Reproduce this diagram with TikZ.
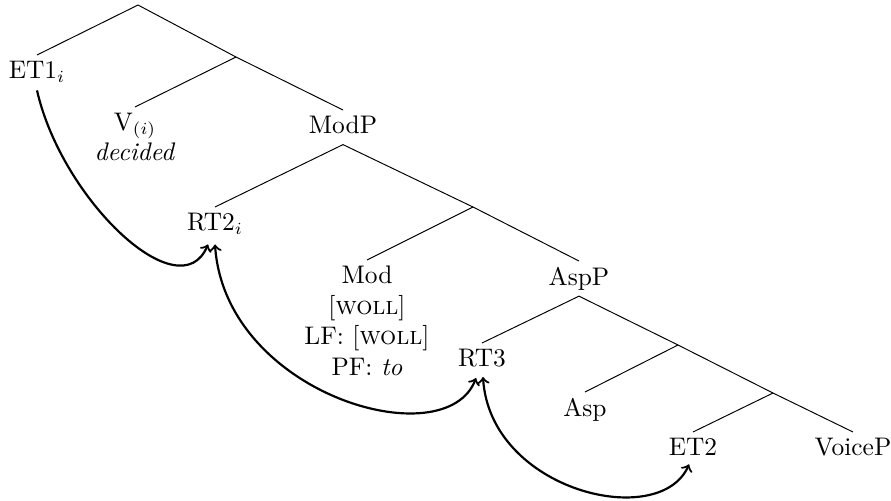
\documentclass[tikz,border=0pt]{standalone}
\usetikzlibrary{calc}
\begin{document}
\begin{tikzpicture}[x=0.413pt, y=-0.413pt,
  lab/.style={inner xsep=1pt, inner ysep=2.3pt, anchor=north, align=center,
    font=\fontsize{10.5}{12.6}\selectfont},
  parent/.style={lab, text depth=2pt},
  branch/.style={line width=0.4pt},
  mv/.style={line width=0.9pt}]
\useasboundingbox (0,0) rectangle (891,500);

% branching points without labels
\coordinate (top) at (138,5);
\coordinate (b1) at (236,57);
\coordinate (b2) at (473,207);
\coordinate (b3) at (678,345);
\coordinate (b4) at (773,393);

% labelled nodes
\node[lab] (et1) at (37,55) {ET1$_i$};
\node[lab] (v) at (135,107) {V$_{(i)}$\\\textit{decided}};
\node[parent] (modp) at (343,110) {ModP};
\node[lab] (rt2) at (215,207) {RT2$_i$};
\node[lab] (mod) at (367,260) {Mod\\{[}\textsc{woll}{]}\\LF: {[}\textsc{woll}{]}\\PF: \textit{to}};
\node[parent] (aspp) at (579,261) {AspP};
\node[lab] (rt3) at (482,343) {RT3};
\node[lab] (asp) at (585,392) {Asp};
\node[lab] (et2) at (693,432) {ET2};
\node[lab] (voicep) at (853,432) {VoiceP};

% tree branches
\draw[branch] (top) -- (et1.north);
\draw[branch] (top) -- (b1);
\draw[branch] (b1) -- (v.north);
\draw[branch] (b1) -- (modp.north);
\draw[branch] (modp.south) -- (rt2.north);
\draw[branch] (modp.south) -- (b2);
\draw[branch] (b2) -- (mod.north);
\draw[branch] (b2) -- (aspp.north);
\draw[branch] (aspp.south) -- (rt3.north);
\draw[branch] (aspp.south) -- (b3);
\draw[branch] (b3) -- (asp.north);
\draw[branch] (b3) -- (b4);
\draw[branch] (b4) -- (et2.north);
\draw[branch] (b4) -- (voicep.north);

% movement arrows
\draw[mv,->] ($(et1.south)+(0,2)$) .. controls +(25,110) and +(-28,67) .. ($(rt2.south)+(-7,4)$);
\draw[mv,<->] ($(rt2.south)+(0,4)$) .. controls +(10,150) and +(-30,80) .. ($(rt3.south)+(-6,5)$);
\draw[mv,<->] ($(rt3.south)+(1,4)$) .. controls +(7,114) and +(-29,67) .. ($(et2.south)+(-4,3)$);
\end{tikzpicture}
\end{document}
